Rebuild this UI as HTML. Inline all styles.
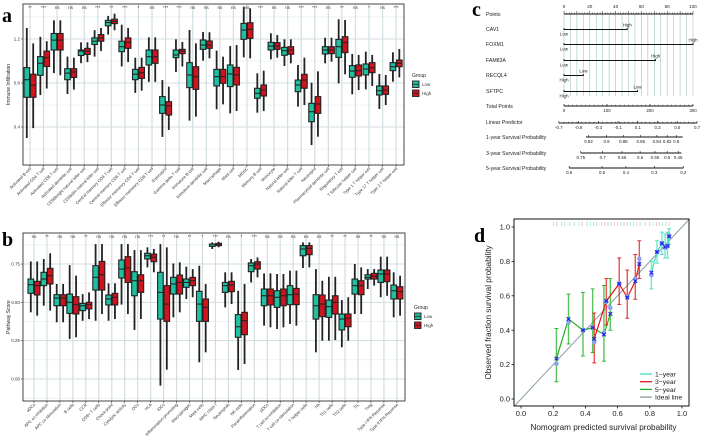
<!DOCTYPE html>
<html><head><meta charset="utf-8"><style>
body{margin:0;background:#fff;}
svg{display:block;font-family:"Liberation Sans",sans-serif;}
</style></head><body>
<svg id="fig" width="708" height="448" viewBox="0 0 708 448" xmlns="http://www.w3.org/2000/svg">
<text x="2" y="22" font-family="Liberation Serif" font-weight="bold" font-size="20">a</text>
<text x="2" y="246" font-family="Liberation Serif" font-weight="bold" font-size="20">b</text>
<text x="472" y="16" font-family="Liberation Serif" font-weight="bold" font-size="20">c</text>
<text x="474" y="242" font-family="Liberation Serif" font-weight="bold" font-size="20">d</text>
</svg>
<script>
// ---------- Panel A data ----------
const catsA=["Activated B cell","Activated CD4 T cell","Activated CD8 T cell","Activated dendritic cell","CD56bright natural killer cell","CD56dim natural killer cell","Central memory CD4 T cell","Central memory CD8 T cell","Effector memeory CD4 T cell","Effector memeory CD8 T cell","Eosinophil","Gamma delta T cell","Immature  B cell","Immature dendritic cell","Macrophage","Mast cell","MDSC","Memory B cell","Monocyte","Natural killer cell","Natural killer T cell","Neutrophil","Plasmacytoid dendritic cell","Regulatory T cell","T follicular helper cell","Type 1 T helper cell","Type 17 T helper cell","Type 2 T helper cell"];
const sigA=["**","***","ns","ns","ns","***","**","***","*","ns","***","***","ns","ns","ns","ns","ns","***","ns","ns","***","***","ns","**","ns","*","ns","***"];
// [min,q1,median,q3,max]
const lowA=[[.30,.67,.83,.94,1.30],[.69,.87,.98,1.04,1.22],[.89,1.10,1.19,1.25,1.37],[.70,.83,.89,.93,1.04],[.98,1.05,1.09,1.10,1.17],[1.04,1.15,1.18,1.21,1.28],[1.24,1.32,1.35,1.37,1.41],[.95,1.085,1.13,1.18,1.33],[.71,.83,.88,.924,1.03],[.81,.964,1.039,1.10,1.215],[.31,.524,.60,.676,.827],[.90,1.03,1.055,1.10,1.197],[.458,.758,.873,.985,1.282],[1.003,1.106,1.145,1.191,1.264],[.561,.773,.858,.924,1.094],[.524,.767,.882,.964,1.136],[1.033,1.197,1.282,1.342,1.494],[.53,.661,.706,.752,.888],[1.015,1.1,1.136,1.17,1.252],[.955,1.052,1.094,1.124,1.197],[.585,.721,.782,.827,.964],[.236,.448,.539,.615,.803],[.979,1.064,1.1,1.13,1.212],[.797,1.033,1.13,1.197,1.379],[.697,.852,.909,.958,1.064],[.742,.873,.927,.973,1.085],[.564,.691,.73,.773,.882],[.812,.912,.948,.985,1.079]];
const highA=[[.39,.67,.78,.88,1.16],[.75,.95,1.03,1.09,1.18],[.87,1.10,1.19,1.25,1.37],[.74,.85,.90,.93,1.03],[.99,1.06,1.09,1.115,1.17],[1.09,1.18,1.21,1.24,1.30],[1.28,1.34,1.36,1.38,1.43],[.99,1.115,1.17,1.21,1.30],[.73,.842,.894,.942,1.03],[.81,.979,1.039,1.10,1.215],[.373,.509,.594,.63,.767],[.95,1.067,1.09,1.106,1.173],[.494,.742,.858,.948,1.161],[1.024,1.115,1.145,1.182,1.261],[.606,.797,.858,.924,1.039],[.545,.782,.873,.942,1.145],[1.024,1.206,1.288,1.348,1.479],[.545,.682,.736,.782,.912],[1.03,1.106,1.136,1.167,1.236],[.979,1.061,1.1,1.13,1.197],[.6,.752,.827,.879,1.03],[.312,.524,.609,.676,.906],[.994,1.067,1.1,1.13,1.212],[.879,1.076,1.167,1.221,1.373],[.736,.864,.912,.964,1.055],[.773,.894,.939,.985,1.055],[.6,.697,.736,.773,.873],[.851,.948,.979,1.009,1.109]];
const ticksA=[0.4,0.8,1.2];
// ---------- Panel B data ----------
const catsB=["aDCs","APC co inhibition","APC co stimulation","B cells","CCR","CD8+ T cells","Check-point","Cytolytic activity","DCs","HLA","iDCs","Inflammation-promoting","Macrophages","Mast cells","MHC class I","Neutrophils","NK cells","Parainflammation","pDCs","T cell co-inhibition","T cell co-stimulation","T helper cells","Tfh","Th1 cells","Th2 cells","TIL","Treg","Type I IFN Reponse","Type II IFN Reponse"];
const sigB=["ns","**","ns","ns","**","ns","ns","ns","ns","***","**","ns","**","*","***","ns","*","***","ns","ns","ns","ns","ns","**","**","ns","**","ns","ns"];
const lowB=[[.435,.559,.615,.652,.767],[.478,.609,.652,.696,.783],[.37,.478,.528,.55,.62],[.261,.428,.5,.554,.743],[.38,.446,.478,.493,.554],[.38,.58,.663,.739,.88],[.38,.483,.522,.548,.624],[.485,.659,.717,.776,.88],[.32,.543,.641,.7,.841],[.728,.783,.804,.82,.859],[-.043,.391,.565,.696,.88],[.402,.554,.62,.663,.754],[.522,.598,.63,.652,.733],[.109,.376,.489,.572,.739],[.848,.865,.88,.88,.891],[.467,.565,.609,.63,.696],[.059,.272,.341,.42,.576],[.63,.7,.739,.757,.783],[.348,.478,.543,.587,.689],[.326,.467,.533,.576,.685],[.359,.485,.55,.609,.707],[.724,.804,.848,.87,.891],[.174,.391,.478,.55,.717],[.25,.402,.472,.515,.667],[.207,.32,.391,.424,.515],[.424,.554,.609,.652,.75],[.587,.652,.663,.68,.717],[.533,.63,.685,.711,.798],[.402,.522,.576,.613,.696]];
const highB=[[.413,.548,.609,.637,.767],[.446,.62,.674,.722,.82],[.37,.478,.528,.55,.62],[.272,.424,.485,.537,.674],[.391,.457,.485,.5,.565],[.424,.58,.68,.767,.88],[.391,.483,.533,.559,.624],[.424,.63,.724,.798,.88],[.391,.565,.641,.68,.841],[.696,.765,.793,.815,.848],[.061,.376,.489,.609,.859],[.435,.554,.63,.678,.761],[.533,.609,.641,.663,.717],[.174,.376,.467,.522,.62],[.859,.87,.88,.885,.896],[.489,.57,.613,.637,.696],[.098,.289,.38,.435,.62],[.663,.717,.75,.765,.793],[.337,.483,.543,.587,.689],[.337,.478,.543,.587,.685],[.348,.485,.554,.591,.707],[.728,.811,.852,.87,.891],[.25,.407,.489,.548,.641],[.254,.424,.5,.543,.667],[.25,.341,.396,.424,.533],[.424,.55,.609,.641,.728],[.609,.652,.67,.689,.717],[.543,.635,.685,.711,.798],[.413,.522,.57,.602,.674]];
const ticksB=[0,0.25,0.5,0.75];
// ---------- Panel C data (nomogram, in points units) ----------
const nomoVars=["CAV1","FOXM1","FAM83A","RECQL4","SFTPC"];
const nomoPts=[49,100,71,15,57];
const nomoEndLabel=["High","High","High","Low","Low"];
const nomoStartLabel=["Low","Low","Low","High","High"];
const pointTicks=[0,20,40,60,80,100];
const totalTicks=[0,100,200,300];
const lpTicks=["-0.7","-0.5","-0.3","-0.1","0.1","0.3","0.5","0.7"];
const lpPos=[-4,11.3,26.6,41.9,57.2,72.5,87.8,103.1];
const s1Ticks=["0.92","0.9","0.88","0.86","0.84","0.82","0.8"];
const s1Pos=[19,33,46,59.5,72,80,87];
const s3Ticks=["0.75","0.7","0.65","0.6","0.55","0.5","0.45"];
const s3Pos=[13,30,45,59,70.5,80,88.5];
const s5Ticks=["0.6","0.5","0.4","0.3","0.2"];
const s5Pos=[4,29.5,48,70,92.5];
// ---------- Panel D data ----------
const predX1=[0.81,0.845,0.875,0.895,0.91,0.92];
const obs1=[0.72,0.855,0.905,0.88,0.89,0.95];
const lo1=[0.64,0.79,0.84,0.82,0.82,0.90];
const hi1=[0.80,0.92,0.97,0.96,0.97,0.99];
const cor1=[0.735,0.855,0.905,0.885,0.89,0.945];
const predX3=[0.455,0.53,0.61,0.66,0.71,0.735];
const obs3=[0.33,0.565,0.67,0.595,0.70,0.815];
const lo3=[0.21,0.43,0.55,0.47,0.58,0.70];
const hi3=[0.50,0.70,0.82,0.75,0.84,0.92];
const cor3=[0.35,0.57,0.67,0.59,0.685,0.785];
const predX5=[0.22,0.295,0.385,0.445,0.515,0.555];
const obs5=[0.205,0.445,0.40,0.415,0.385,0.53];
const lo5=[0.10,0.32,0.25,0.27,0.22,0.40];
const hi5=[0.41,0.61,0.62,0.64,0.66,0.70];
const cor5=[0.235,0.465,0.40,0.415,0.375,0.495];
const rug=[0.2,0.22,0.25,0.27,0.3,0.33,0.36,0.38,0.41,0.43,0.45,0.47,0.5,0.52,0.54,0.56,0.58,0.6,0.62,0.64,0.66,0.68,0.7,0.72,0.74,0.77,0.8,0.82,0.84,0.86,0.88,0.9,0.92];
const dTicks=[0,0.2,0.4,0.6,0.8,1.0];

const NS="http://www.w3.org/2000/svg";
const svg=document.getElementById('fig');
function mk(tag,attrs,parent){const e=document.createElementNS(NS,tag);for(const k in attrs)e.setAttribute(k,attrs[k]);(parent||svg).appendChild(e);return e;}
function txt(s,attrs,parent){const e=mk('text',attrs,parent);e.textContent=s;return e;}

function boxPanel(o){
  const g=mk('g',{});
  
  
  const yS=v=>o.y0-(v-o.v0)*o.k;
  const xS=i=>o.cx0+i*o.dx;
  for(let i=0;i<o.ticks.length;i++){
    const y=yS(o.ticks[i]);
    const gl=mk('line',{x1:o.L,x2:o.R,y1:y,y2:y,stroke:'#d3dee0','stroke-width':1},g);
    
    
    const ym=yS(o.ticks[i]+o.step/2);
    if(ym>o.T&&ym<o.B){const ml=mk('line',{x1:o.L,x2:o.R,y1:ym,y2:ym,stroke:'#e3ebec','stroke-width':0.6},g);
      }
    const ymb=yS(o.ticks[i]-o.step/2);
    if(i==0&&ymb>o.T&&ymb<o.B){mk('line',{x1:o.L,x2:o.R,y1:ymb,y2:ymb,stroke:'#e3ebec','stroke-width':0.6},g);}
    const tl=txt(String(o.tickFmt(o.ticks[i])),{x:o.L-3,y:y+1.5,'font-size':4.5,'text-anchor':'end',fill:'#333'},g);
    
    
    mk('line',{x1:o.L-2,x2:o.L,y1:y,y2:y,stroke:'#333','stroke-width':0.6},g);
  }
  const ytop=yS(o.ticks[o.ticks.length-1]+o.step/2);
  if(ytop>o.T) mk('line',{x1:o.L,x2:o.R,y1:ytop,y2:ytop,stroke:'#e3ebec','stroke-width':0.6},g);
  for(let i=0;i<o.cats.length;i++){
    const vl=mk('line',{x1:xS(i),x2:xS(i),y1:o.T,y2:o.B,stroke:'#d3dee0','stroke-width':1.2},g);
    
    
  }
  const bw=5.6;
  for(let i=0;i<o.cats.length;i++){
    const cx=xS(i);
    [[o.low[i],'#1fbf9f',cx-3.2],[o.high[i],'#d0141e',cx+3.2]].forEach((d,j)=>{
      const [mn,q1,md,q3,mx]=d[0];const c=d[2];
      const w=mk('line',{x1:c,x2:c,y1:yS(mx),y2:yS(mn),stroke:'#222','stroke-width':1.8},g);
      
      
      const r=mk('rect',{x:c-bw/2,y:yS(q3),width:bw,height:Math.max(0.8,yS(q1)-yS(q3)),fill:d[1],stroke:'#222','stroke-width':1.1},g);
      
      
      const m=mk('line',{x1:c-bw/2,x2:c+bw/2,y1:yS(md),y2:yS(md),stroke:'#222','stroke-width':1.1},g);
      
      
    });
    const s=txt(o.sig[i],{x:cx,y:o.T+5,'font-size':4.5,'text-anchor':'middle',fill:'#333'},g);
    
    
    mk('line',{x1:cx,x2:cx,y1:o.B,y2:o.B+2,stroke:'#333','stroke-width':0.6},g);
    const xl=txt(o.cats[i],{x:0,y:0,'font-size':4.2,'text-anchor':'end',fill:'#333',transform:`translate(${cx+1.5},${o.B+4}) rotate(-45)`},g);
    
    
  }
  const fr=mk('rect',{x:o.L,y:o.T,width:o.R-o.L,height:o.B-o.T,fill:'none',stroke:'#333','stroke-width':0.9},g);
  
  
  const yt=txt(o.ytitle,{x:0,y:0,'font-size':5,'text-anchor':'middle',fill:'#222',transform:`translate(${o.L-13},${(o.T+o.B)/2}) rotate(-90)`},g);
  
  
  const lg=mk('g',{},g);
  
  
  txt('Group',{x:o.lx,y:o.ly,'font-size':5,fill:'#222'},lg);
  [['Low','#1fbf9f'],['High','#d0141e']].forEach((e,j)=>{
    const ey=o.ly+4+j*9;
    const k=mk('rect',{x:o.lx+0.5,y:ey,width:6.5,height:6.5,fill:e[1],stroke:'#222','stroke-width':0.9},lg);
    
    
    mk('line',{x1:o.lx+0.5,x2:o.lx+7,y1:ey+3.25,y2:ey+3.25,stroke:'#222','stroke-width':0.8},lg);
    const t=txt(e[0],{x:o.lx+10,y:ey+5,'font-size':4.5,fill:'#333'},lg);
    
    
  });
}
boxPanel({name:'panel-a-immune-boxplot',cats:catsA,sig:sigA,low:lowA,high:highA,ticks:ticksA,step:0.4,v0:0.8,y0:83,k:110,
  L:23,R:404,T:4,B:165,cx0:30,dx:13.56,ytitle:'Immune Infiltration',tickFmt:v=>v.toFixed(1),lx:412,ly:77});
boxPanel({name:'panel-b-pathway-boxplot',cats:catsB,sig:sigB,low:lowB,high:highB,ticks:ticksB,step:0.25,v0:0,y0:379,k:153.3,
  L:23,R:405,T:233,B:401,cx0:34,dx:12.96,ytitle:'Pathway Score',tickFmt:v=>v.toFixed(2),lx:414,ly:309});

// ---------- Panel C ----------
(function(){
  const g=mk('g',{});
  
  
  const P0=564,P1=693;
  const px=p=>P0+(P1-P0)*p/100;
  const rowY=[14,29,44,60,75,91,106,122,137,153,168];
  const names=["Points"].concat(nomoVars).concat(["Total Points","Linear Predictor","1-year Survival Probability","3-year Survival Probability","5-year Survival Probability"]);
  names.forEach((n,i)=>{const t=txt(n,{x:486,y:rowY[i]+2,'font-size':5.2,fill:'#222'},g);
    });
  for(let p=0;p<=100;p+=5){mk('line',{x1:px(p),x2:px(p),y1:14,y2:96,stroke:'#98c6c1','stroke-width':0.6},g);}
  mk('line',{x1:P0,x2:P1,y1:14,y2:14,stroke:'#111','stroke-width':0.9},g);
  for(let p=0;p<=100;p+=2){mk('line',{x1:px(p),x2:px(p),y1:14,y2:p%10?12.5:11,stroke:'#111','stroke-width':0.5},g);}
  pointTicks.forEach(p=>{const t=txt(String(p),{x:px(p),y:8,'font-size':4.6,'text-anchor':'middle',fill:'#222'},g);
    });
  nomoVars.forEach((v,i)=>{
    const y=rowY[i+1]+0.5;const e=px(nomoPts[i]);
    const l=mk('path',{d:`M${P0},${y-1.5}V${y}H${e}V${y-1.5}`,fill:'none',stroke:'#111','stroke-width':0.9},g);
    
    
    txt(nomoEndLabel[i],{x:e,y:y-3,'font-size':4.4,'text-anchor':'middle',fill:'#222'},g);
    txt(nomoStartLabel[i],{x:P0,y:y+6,'font-size':4.4,'text-anchor':'middle',fill:'#222'},g);
  });
  function scale(y,ticks,pos,x0,x1,minor){
    mk('line',{x1:px(x0),x2:px(x1),y1:y,y2:y,stroke:'#111','stroke-width':0.9},g);
    if(minor){for(let p=0;p<=100;p+=100/30){mk('line',{x1:px(p),x2:px(p),y1:y,y2:y-1.3,stroke:'#111','stroke-width':0.5},g);}}
    ticks.forEach((t,i)=>{mk('line',{x1:px(pos[i]),x2:px(pos[i]),y1:y,y2:y-2,stroke:'#111','stroke-width':0.6},g);
      const tt=txt(t,{x:px(pos[i]),y:y+6,'font-size':4.4,'text-anchor':'middle',fill:'#222'},g);
      });
  }
  scale(106,totalTicks.map(String),totalTicks.map(t=>t/3),0,100,true);
  scale(123,lpTicks,lpPos,-4,103.1,true);
  scale(137,s1Ticks,s1Pos,17,92,false);
  scale(153,s3Ticks,s3Pos,13,91,false);
  scale(168,s5Ticks,s5Pos,4,92.5,false);
})();

// ---------- Panel D ----------
(function(){
  const g=mk('g',{});
  
  
  const xS=v=>521+161*v, yS=v=>399-172*v;
  const L=514,R=689,T=219,B=406;
  const cp=mk('clipPath',{id:'dclip'},g);mk('rect',{x:L,y:T,width:R-L,height:B-T},cp);
  const ideal=mk('line',{x1:xS(-0.05),y1:yS(-0.05),x2:xS(1.05),y2:yS(1.05),stroke:'#8a9ea6','stroke-width':1,'clip-path':'url(#dclip)'},g);
  
  
  rug.forEach((r,i)=>{const c=['#7fe0cc','#f0a0a0','#8fd89a'][i%3];
    mk('line',{x1:xS(r),x2:xS(r),y1:T+3,y2:T+7,stroke:c,'stroke-width':0.6},g);});
  function series(px,obs,lo,hi,cor,col,nm){
    const sg=mk('g',{},g);
    
    
    px.forEach((x,i)=>{
      mk('line',{x1:xS(x),x2:xS(x),y1:yS(lo[i]),y2:yS(hi[i]),stroke:col,'stroke-width':1.4,'stroke-opacity':0.75},sg);
      mk('line',{x1:xS(x)-2,x2:xS(x)+2,y1:yS(lo[i]),y2:yS(lo[i]),stroke:col,'stroke-width':0.9},sg);
      mk('line',{x1:xS(x)-2,x2:xS(x)+2,y1:yS(hi[i]),y2:yS(hi[i]),stroke:col,'stroke-width':0.9},sg);
    });
    mk('polyline',{points:px.map((x,i)=>xS(x)+','+yS(cor[i])).join(' '),fill:'none',stroke:col,'stroke-width':1.2},sg);
    px.forEach((x,i)=>{
      const c=mk('circle',{cx:xS(x),cy:yS(obs[i]),r:2.3,fill:'#8f9ff0'},sg);
      
      
      const X=xS(x),Y=yS(cor[i]);
      mk('path',{d:`M${X-1.8},${Y-1.8}L${X+1.8},${Y+1.8}M${X-1.8},${Y+1.8}L${X+1.8},${Y-1.8}`,stroke:'#1a22e8','stroke-width':1.2},sg);
    });
  }
  series(predX5,obs5,lo5,hi5,cor5,'#22b022','series-5-year');
  series(predX3,obs3,lo3,hi3,cor3,'#e01818','series-3-year');
  series(predX1,obs1,lo1,hi1,cor1,'#3fe0c0','series-1-year');
  const fr=mk('rect',{x:L,y:T,width:R-L,height:B-T,fill:'none',stroke:'#111','stroke-width':1},g);
  
  
  dTicks.forEach(t=>{
    mk('line',{x1:xS(t),x2:xS(t),y1:B,y2:B+2.5,stroke:'#111','stroke-width':0.8},g);
    const a=txt(t.toFixed(1),{x:xS(t),y:416,'font-size':7.5,'text-anchor':'middle',fill:'#222'},g);
    
    mk('line',{x1:L-2.5,x2:L,y1:yS(t),y2:yS(t),stroke:'#111','stroke-width':0.8},g);
    const b=txt(t.toFixed(1),{x:L-4,y:yS(t)+2.6,'font-size':7.5,'text-anchor':'end',fill:'#222'},g);
    
  });
  const xt=txt('Nomogram predicted survival probability',{x:(L+R)/2+2,y:430,'font-size':8.2,'text-anchor':'middle',fill:'#222'},g);
  
  const yt=txt('Observed fraction survival probability',{x:0,y:0,'font-size':8.2,'text-anchor':'middle',fill:'#222',transform:`translate(491,${(T+B)/2}) rotate(-90)`},g);
  
  const lg=mk('g',{},g);
  
  
  [['1\u2212year','#3fe0c0'],['3\u2212year','#e01818'],['5\u2212year','#22b022'],['Ideal line','#8a9ea6']].forEach((e,i)=>{
    const y=374+i*7.7;
    const k=mk('line',{x1:640,x2:652,y1:y,y2:y,stroke:e[1],'stroke-width':1.3},lg);
    
    
    const t=txt(e[0],{x:655,y:y+2.5,'font-size':6.8,fill:'#222'},lg);
    
    
  });
})();
</script>
</body></html>
